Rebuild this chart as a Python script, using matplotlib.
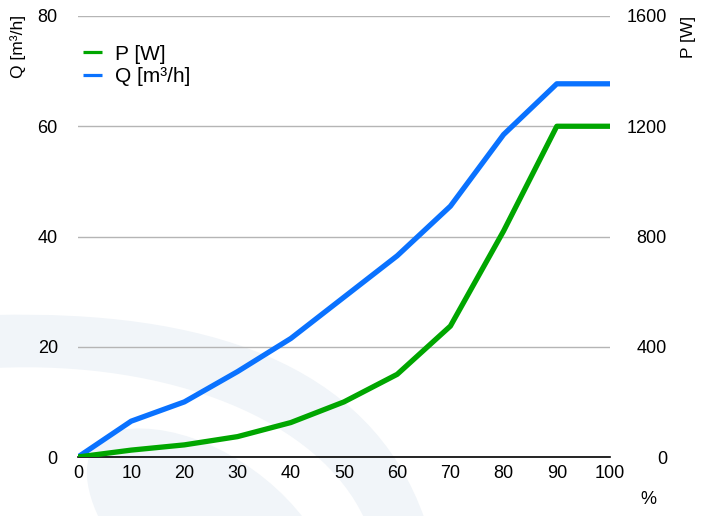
import numpy as np
import matplotlib as mpl
mpl.use('Agg')
import matplotlib.pyplot as plt
from matplotlib.path import Path
from matplotlib.patches import PathPatch

plt.rcParams['font.family'] = ['Liberation Sans', 'DejaVu Sans']

pct = [0, 10, 20, 30, 40, 50, 60, 70, 80, 90, 100]
q_flow = [0, 6.5, 10, 15.5, 21.5, 29, 36.5, 45.5, 58.5, 67.7, 67.7]
p_power = [0, 25, 44, 74, 125, 200, 300, 475, 820, 1200, 1200]
q_ticks = [0, 20, 40, 60, 80]
p_ticks = [0, 400, 800, 1200, 1600]

GREEN = '#00a600'
BLUE = '#0a72ff'
W, H = 709, 516

fig = plt.figure(figsize=(W / 100, H / 100), dpi=100)

# faint watermark swooshes behind the chart, drawn in pixel space
bg = fig.add_axes([0, 0, 1, 1], zorder=-1)
bg.set_xlim(0, W)
bg.set_ylim(H, 0)
bg.axis('off')
C4, L, M = Path.CURVE4, Path.LINETO, Path.MOVETO
band_a = Path(
    [(-5, 315), (200, 310), (370, 360), (425, 520),
     (365, 520), (320, 420), (170, 360), (-5, 368), (-5, 315)],
    [M, C4, C4, C4, L, C4, C4, C4, L])
band_b = Path(
    [(100, 520), (80, 480), (80, 440), (120, 430),
     (180, 420), (260, 460), (305, 520), (100, 520)],
    [M, C4, C4, C4, C4, C4, C4, L])
for p in (band_a, band_b):
    bg.add_patch(PathPatch(p, facecolor='#f1f5f9', edgecolor='none'))

ax = fig.add_axes([78 / W, 59 / H, 532 / W, 441 / H])
ax.patch.set_alpha(0)
ax2 = ax.twinx()

ax.set_xlim(0, 100)
ax.set_ylim(0, 80)
ax2.set_ylim(0, 1600)
ax.set_xticks(pct)
ax.set_yticks(q_ticks)
ax2.set_yticks(p_ticks)

for a in (ax, ax2):
    for s in a.spines.values():
        s.set_visible(False)
ax.spines['bottom'].set_visible(True)
ax.spines['bottom'].set_color('black')
ax.spines['bottom'].set_linewidth(1.2)

ax.grid(axis='y', color='#b5b5b5', linewidth=1)
ax.set_axisbelow(True)
ax.tick_params(axis='both', length=0, labelsize=13)
ax.tick_params(axis='y', pad=14.5)
ax.tick_params(axis='x', pad=6)
ax2.tick_params(axis='y', length=0, labelsize=13, pad=41)
for t in ax2.get_yticklabels():
    t.set_horizontalalignment('right')

lp, = ax2.plot(pct, p_power, color=GREEN, lw=3.8, solid_joinstyle='round',
               solid_capstyle='butt', label='P [W]', zorder=3)
lq, = ax.plot(pct, q_flow, color=BLUE, lw=3.8, solid_joinstyle='round',
              solid_capstyle='butt', label='Q [m³/h]', zorder=3)

leg = ax2.legend([lp, lq], ['P [W]', 'Q [m³/h]'], loc='upper left',
                 bbox_to_anchor=(0.01, 0.935), frameon=False, fontsize=15,
                 handlelength=0.9, handletextpad=0.6, labelspacing=0.16,
                 borderaxespad=0, borderpad=0)
for h in leg.legend_handles:
    h.set_linewidth(2.3)

fig.text(18 / W, 1 - 46 / H, 'Q [m³/h]', rotation=90, ha='center', va='center',
         fontsize=12.5)
fig.text(688 / W, 1 - 37 / H, 'P [W]', rotation=90, ha='center', va='center',
         fontsize=12.5)
fig.text(648 / W, 1 - 500 / H, '%', ha='center', va='center', fontsize=13)

fig.savefig('out.png', dpi=100)
